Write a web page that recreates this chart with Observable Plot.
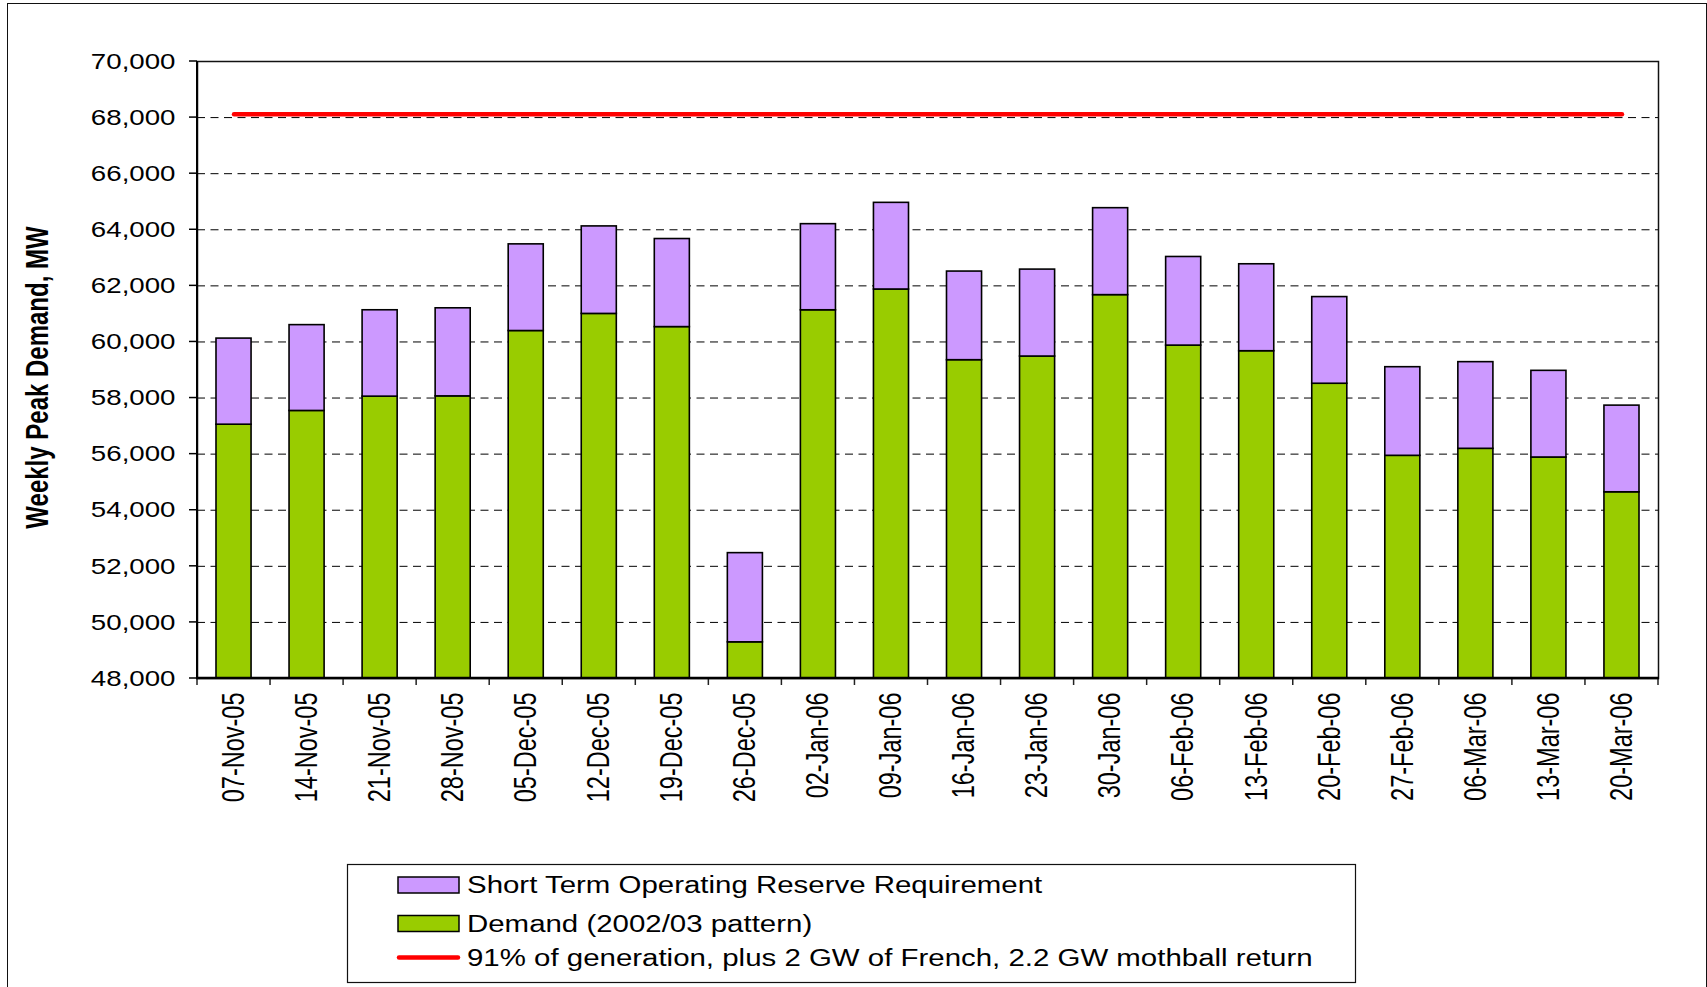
<!DOCTYPE html>
<html><head><meta charset="utf-8">
<script src="https://cdn.jsdelivr.net/npm/d3@7"></script>
<script src="https://cdn.jsdelivr.net/npm/@observablehq/plot@0.6"></script>
<style>
html,body{margin:0;padding:0;overflow:hidden;background:#fff;width:1707px;height:987px;}
#frame{position:absolute;left:7px;top:3px;width:1700px;height:1100px;border:1.5px solid #111;box-sizing:border-box;}
#chart{position:absolute;left:0;top:0;}
#legend{position:absolute;left:0;top:0;pointer-events:none;}
</style></head><body>
<div id="frame"></div>
<div id="chart"></div>
<svg id="legend" width="1707" height="987"></svg>
<script>
// ---- data ----
const weeks = ["07-Nov-05","14-Nov-05","21-Nov-05","28-Nov-05","05-Dec-05","12-Dec-05","19-Dec-05","26-Dec-05","02-Jan-06","09-Jan-06","16-Jan-06","23-Jan-06","30-Jan-06","06-Feb-06","13-Feb-06","20-Feb-06","27-Feb-06","06-Mar-06","13-Mar-06","20-Mar-06"];
const demand = [57050, 57540, 58050, 58060, 60390, 61000, 60530, 49290, 61130, 61870, 59350, 59480, 61670, 59870, 59670, 58510, 55940, 56190, 55880, 54640];
const reserve = [3070, 3060, 3080, 3140, 3090, 3120, 3140, 3180, 3070, 3090, 3160, 3100, 3100, 3160, 3100, 3090, 3160, 3090, 3090, 3090];
const capacityLevel = 68120;
const yTicks = [48000, 50000, 52000, 54000, 56000, 58000, 60000, 62000, 64000, 66000, 68000, 70000];
const yTitle = "Weekly Peak Demand, MW";
const legendLabels = ["Short Term Operating Reserve Requirement", "Demand (2002/03 pattern)", "91% of generation, plus 2 GW of French, 2.2 GW mothball return"];

const colReserve = "#CC99FF", colDemand = "#99CC00", colLine = "#FF0000";
const barPad = 0.52;
const yMin = yTicks[0], yMax = yTicks[yTicks.length - 1];

const table = weeks.map((w, i) => ({week: w, demand: demand[i], total: demand[i] + reserve[i], cap: capacityLevel}));
const gridValues = yTicks.filter(v => v > yMin && v < yMax);
const fmt = d3.format(",");

function decorations(index, scales, values, dims) {
  const x = scales.x, y = scales.y;
  const {width, height, marginLeft, marginRight, marginTop, marginBottom} = dims;
  const left = marginLeft, right = width - marginRight, top = marginTop, bottom = height - marginBottom;
  const step = x(weeks[1]) - x(weeks[0]);
  const bw = x.bandwidth ? x.bandwidth() : step * (1 - barPad);
  const off = (step - bw) / 2;
  const g = d3.create("svg:g");
  for (const v of yTicks) {
    g.append("line").attr("x1", left - 8).attr("x2", left).attr("y1", y(v)).attr("y2", y(v))
      .attr("stroke", "#000").attr("stroke-width", 1.5);
  }
  const bounds = weeks.map(w => x(w) - off);
  bounds.push(x(weeks[weeks.length - 1]) - off + step);
  for (const b of bounds) {
    g.append("line").attr("x1", b).attr("x2", b).attr("y1", bottom).attr("y2", bottom + 7)
      .attr("stroke", "#222").attr("stroke-width", 1.5);
  }
  g.append("line").attr("x1", left).attr("x2", left).attr("y1", top).attr("y2", bottom)
    .attr("stroke", "#000").attr("stroke-width", 2);
  g.append("line").attr("x1", left - 1).attr("x2", right + 1).attr("y1", bottom).attr("y2", bottom)
    .attr("stroke", "#000").attr("stroke-width", 2.5);
  return g.node();
}

const svg = Plot.plot({
  width: 1707,
  height: 860,
  marginLeft: 197,
  marginRight: 49,
  marginTop: 61,
  marginBottom: 182,
  style: {background: "transparent", fontFamily: "'Liberation Sans', Arial, sans-serif", color: "#000", overflow: "visible"},
  x: {type: "band", domain: weeks, paddingInner: barPad, paddingOuter: barPad / 2, round: false, axis: null},
  y: {domain: [yMin, yMax], axis: null},
  marks: [
    Plot.ruleY(gridValues, {stroke: "#000", strokeWidth: 1, strokeDasharray: "8,5.5"}),
    Plot.barY(table, {x: "week", y1: () => yMin, y2: "demand", fill: colDemand, stroke: "#000", strokeWidth: 1.6}),
    Plot.barY(table, {x: "week", y1: "demand", y2: "total", fill: colReserve, stroke: "#000", strokeWidth: 1.6}),
    Plot.lineY(table, {x: "week", y: "cap", stroke: colLine, strokeWidth: 4.5, strokeLinecap: "round"}),
    Plot.frame({stroke: "#111", strokeWidth: 1.5}),
    decorations,
    Plot.text(weeks, {x: d => d, frameAnchor: "bottom", text: d => d, rotate: -90, textAnchor: "end", lineAnchor: "middle", dy: 14, fontSize: 23.5, fill: "#000"}),
    Plot.text(yTicks, {y: d => d, frameAnchor: "left", text: d => fmt(d), textAnchor: "end", lineAnchor: "middle", dx: -22, fontSize: 22.5, fill: "#000"}),
    Plot.text([yTitle], {frameAnchor: "left", text: d => d, rotate: -90, textAnchor: "middle", dx: -160, dy: 7.5, lineAnchor: "middle", fontSize: 24, fontWeight: "bold", fill: "#000"})
  ]
});
document.getElementById("chart").appendChild(svg);

// stretch glyphs horizontally like the reference
const groups = svg.querySelectorAll('g[aria-label="text"]');
const stretch = [" scale(1,1.3)", " scale(1.23,1)", " scale(1,1.3)"];
groups.forEach((g, k) => {
  g.querySelectorAll("text").forEach(t => {
    const tr = t.getAttribute("transform") || "";
    t.setAttribute("transform", tr + (stretch[k] || ""));
  });
});

// ---- legend ----
const lg = d3.select("#legend");
lg.append("rect").attr("x", 347.5).attr("y", 864.5).attr("width", 1008).attr("height", 118)
  .attr("fill", "#fff").attr("stroke", "#111").attr("stroke-width", 1.2);
const rowsY = [885, 923.5, 957.5];
const swatches = [colReserve, colDemand];
swatches.forEach((c, i) => {
  lg.append("rect").attr("x", 398).attr("y", rowsY[i] - 8).attr("width", 61).attr("height", 16)
    .attr("fill", c).attr("stroke", "#000").attr("stroke-width", 1.5);
});
lg.append("line").attr("x1", 399).attr("x2", 458).attr("y1", rowsY[2]).attr("y2", rowsY[2])
  .attr("stroke", colLine).attr("stroke-width", 4.5).attr("stroke-linecap", "round");
legendLabels.forEach((s, i) => {
  lg.append("text").attr("transform", `translate(467,${rowsY[i] + 8.3}) scale(1.28,1)`)
    .attr("font-family", "'Liberation Sans', Arial, sans-serif").attr("font-size", 23).attr("fill", "#000").text(s);
});
</script>
</body></html>
